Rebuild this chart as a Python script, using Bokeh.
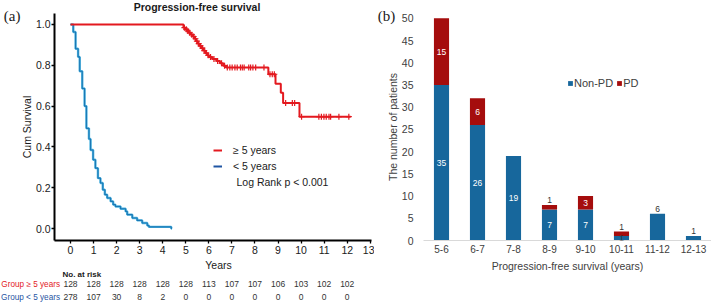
import numpy as np
from bokeh.plotting import figure
from bokeh.models import (Range1d, FactorRange, FixedTicker, NumeralTickFormatter, LabelSet,
                          ColumnDataSource, Legend, LegendItem)
from bokeh.core.properties import value
from bokeh.layouts import row, column
from bokeh.embed import file_html
from bokeh.resources import INLINE

FONT = "Liberation Sans"
SERIF = "Liberation Serif"

# ---------------- data: panel (a) Kaplan-Meier ----------------
ge5_times = [0.0, 4.90, 4.97, 5.05, 5.13, 5.22, 5.30, 5.38, 5.45, 5.52, 5.60, 5.68, 5.76, 5.85,
             5.93, 6.00, 6.15, 6.33, 6.48, 6.62, 6.74, 8.58, 8.89, 9.12, 9.22, 9.93]
ge5_surv = [1.0, 0.984, 0.976, 0.968, 0.959, 0.950, 0.941, 0.930, 0.918, 0.906, 0.895, 0.884,
            0.872, 0.860, 0.849, 0.840, 0.831, 0.821, 0.810, 0.798, 0.789, 0.756, 0.710, 0.665,
            0.615, 0.548]
ge5_end = 12.15
ge5_censor = [4.94, 5.02, 5.09, 5.17, 5.26, 5.34, 5.42, 5.48, 5.56, 5.64, 5.72, 5.80, 5.89,
              5.97, 6.07, 6.22, 6.38, 6.55, 6.68, 6.80, 6.91, 7.01, 7.13, 7.23, 7.37, 7.45,
              7.53, 7.73, 7.81, 7.91, 8.03, 8.39, 8.65, 8.75, 8.84, 9.33, 9.62, 9.72, 10.02,
              10.77, 10.88, 10.99, 11.09, 11.21, 11.28, 11.64, 12.07]

lt5_times = [0.0, 0.12, 0.22, 0.33, 0.40, 0.51, 0.61, 0.69, 0.80, 0.87, 0.98, 1.08, 1.19, 1.30,
             1.40, 1.49, 1.59, 1.74, 1.85, 1.95, 2.17, 2.39, 2.46, 2.68, 2.89, 3.11, 3.33,
             3.40, 4.37]
lt5_surv = [1.0, 0.963, 0.881, 0.841, 0.771, 0.686, 0.600, 0.491, 0.439, 0.385, 0.337, 0.296,
            0.247, 0.223, 0.190, 0.166, 0.150, 0.133, 0.117, 0.108, 0.097, 0.084, 0.068, 0.052,
            0.040, 0.027, 0.015, 0.008, 0.0]
lt5_end = 4.40

x_ticks_a = list(range(14))
y_ticks_a = [0.0, 0.2, 0.4, 0.6, 0.8, 1.0]
risk_years = list(range(13))
risk_ge5 = [128, 128, 128, 128, 128, 128, 113, 107, 107, 106, 103, 102, 102]
risk_lt5 = [278, 107, 30, 8, 2, 0, 0, 0, 0, 0, 0, 0, 0]

# ---------------- data: panel (b) stacked bars ----------------
pfs_groups = ["5-6", "6-7", "7-8", "8-9", "9-10", "10-11", "11-12", "12-13"]
non_pd = [35, 26, 19, 7, 7, 1, 6, 1]
pd_cnt = [15, 6, 0, 1, 3, 1, 0, 0]
y_ticks_b = [0, 5, 10, 15, 20, 25, 30, 35, 40, 45, 50]

# label placement (style config)
non_pd_mode = ["in", "in", "in", "in", "in", "dark", "top", "top"]
pd_mode = ["in", "in", "", "top", "in", "top", "", ""]

RED = "#e3191f"
BLUE_HALO = "#4fb4e0"
BLUE_CORE = "#1a78b5"
BLUE_LEG = "#1f55a3"
BAR_BLUE = "#17679c"
BAR_RED = "#a50d0d"
TXT = "#1a1a1a"
GREY = "#404040"


def surv_at(times, surv, t):
    i = int(np.searchsorted(np.asarray(times), t, side="right")) - 1
    return surv[max(i, 0)]


# ================= background text layer (shares the KM year / survival scale) ===========
bg = figure(width=711, height=303, x_range=Range1d(-3.0356, 27.797),
            y_range=Range1d(-0.361, 1.1171), min_border_left=0, min_border_right=0,
            min_border_top=0, min_border_bottom=0, x_axis_location=None,
            y_axis_location=None, toolbar_location=None, output_backend="svg", title=None)
bg.outline_line_color = None
bg.grid.visible = False


def bg_text(x, y, text, size="10.5px", color=TXT, align="left", style="normal", font=FONT):
    bg.text(x=[x], y=[y], text=[text], text_font=value(font), text_font_size=value(size),
            text_color=color, text_align=align, text_baseline="middle",
            text_font_style=style)


bg_text(5.486, 1.0854, "Progression-free survival", style="bold", align="center")
bg_text(-2.892, 1.0439, "(a)", size="15px", font=SERIF)
bg_text(7.199, 0.2293, "Log Rank p < 0.001")
bg_text(6.418, -0.1756, "Years", align="center")
bg_text(-0.347, -0.218, "No. at risk", size="8px", style="bold")
bg_text(-0.455, -0.2683, "Group ≥ 5 years", size="8.2px", color=RED, align="right")
bg_text(-0.455, -0.3317, "Group < 5 years", size="8.2px", color=BLUE_LEG, align="right")
bg_text(13.326, 1.0424, "(b)", size="15px", font=SERIF)

risk_src = ColumnDataSource(dict(
    x=risk_years + risk_years,
    y=[-0.2683] * len(risk_years) + [-0.3317] * len(risk_years),
    t=[str(v) for v in risk_ge5] + [str(v) for v in risk_lt5]))
bg.text(x="x", y="y", text="t", source=risk_src, text_font=value(FONT),
        text_font_size=value("8.5px"), text_color="#333333", text_align="center",
        text_baseline="middle")

# ================= panel (a) =================
p1 = figure(width=374, height=303, x_range=Range1d(-0.6938, 13.053),
            y_range=Range1d(-0.05854, 1.05366), min_border_left=54, min_border_right=3,
            min_border_top=13, min_border_bottom=62, toolbar_location=None,
            output_backend="svg", title=None)
p1.outline_line_color = None
p1.grid.visible = False
p1.background_fill_alpha = 0
p1.border_fill_alpha = 0

lx = lt5_times + [lt5_end]
ly = lt5_surv + [lt5_surv[-1]]
p1.step(x=lx, y=ly, mode="after", line_color=BLUE_HALO, line_width=2.4)
p1.step(x=lx, y=ly, mode="after", line_color=BLUE_CORE, line_width=1.1)
r_leg_lt5 = p1.step(x=lx, y=ly, mode="after", line_color=BLUE_LEG, line_width=2,
                    visible=False)
r_ge5 = p1.step(x=ge5_times + [ge5_end], y=ge5_surv + [ge5_surv[-1]], mode="after",
                line_color=RED, line_width=2)
cy = [surv_at(ge5_times, ge5_surv, t) for t in ge5_censor]
p1.scatter(x=ge5_censor, y=cy, marker="cross", size=6, line_color=RED, line_width=1.2)

for ax in (p1.xaxis[0], p1.yaxis[0]):
    ax.axis_line_width = 2
    ax.axis_line_color = "black"
    ax.major_tick_out = 3
    ax.major_tick_in = 0
    ax.major_tick_line_width = 1.3
    ax.major_tick_line_color = "black"
    ax.minor_tick_line_color = None
    ax.major_label_text_font = FONT
    ax.major_label_text_font_size = "10.5px"
    ax.major_label_text_color = TXT
    ax.major_label_standoff = 1

p1.xaxis[0].ticker = FixedTicker(ticks=x_ticks_a)
p1.xaxis[0].major_label_standoff = 2
p1.yaxis[0].ticker = FixedTicker(ticks=y_ticks_a)
p1.yaxis[0].formatter = NumeralTickFormatter(format="0.0")
p1.yaxis[0].axis_label = "Cum Survival"
p1.yaxis[0].axis_label_text_font = FONT
p1.yaxis[0].axis_label_text_font_size = "10.5px"
p1.yaxis[0].axis_label_text_font_style = "normal"
p1.yaxis[0].axis_label_text_color = TXT
p1.yaxis[0].axis_label_standoff = 0

leg1 = Legend(items=[LegendItem(label="≥ 5 years", renderers=[r_ge5]),
                     LegendItem(label="< 5 years", renderers=[r_leg_lt5])],
              location=(159, 66), glyph_width=9, glyph_height=16, label_height=16,
              spacing=0, padding=0, margin=0, label_standoff=11,
              border_line_color=None, background_fill_alpha=0, inactive_fill_alpha=0,
              click_policy="none",
              label_text_font=FONT, label_text_font_size="10.5px", label_text_color=TXT)
p1.add_layout(leg1)

# ================= panel (b) =================
p2 = figure(width=337, height=303, x_range=FactorRange(factors=pfs_groups, range_padding=0),
            y_range=Range1d(0, 51.087), min_border_left=49, min_border_right=0,
            min_border_top=5, min_border_bottom=63, toolbar_location=None,
            output_backend="svg", title=None)
p2.outline_line_color = None
p2.grid.visible = False
p2.background_fill_alpha = 0
p2.border_fill_alpha = 0

src = ColumnDataSource(dict(g=pfs_groups, non_pd=non_pd, pd=pd_cnt))
rs = p2.vbar_stack(["non_pd", "pd"], x="g", width=0.42, color=[BAR_BLUE, BAR_RED],
                   line_color=None, source=src)

ya = p2.yaxis[0]
ya.ticker = FixedTicker(ticks=y_ticks_b)
ya.axis_line_color = None
ya.major_tick_line_color = None
ya.major_tick_out = 0
ya.major_tick_in = 0
ya.minor_tick_line_color = None
ya.major_label_standoff = 10
ya.major_label_text_font = FONT
ya.major_label_text_font_size = "10.5px"
ya.major_label_text_color = GREY
ya.axis_label = "The number of patients"
ya.axis_label_text_font = FONT
ya.axis_label_text_font_size = "10.5px"
ya.axis_label_text_font_style = "normal"
ya.axis_label_text_color = GREY
ya.axis_label_standoff = 0

xa = p2.xaxis[0]
xa.axis_line_color = "#d9d9d9"
xa.axis_line_width = 1
xa.major_tick_line_color = None
xa.major_tick_out = 0
xa.major_tick_in = 0
xa.minor_tick_line_color = None
xa.major_label_standoff = 4
xa.major_label_text_font = FONT
xa.major_label_text_font_size = "10px"
xa.major_label_text_color = GREY
xa.axis_label = "Progression-free survival (years)"
xa.axis_label_text_font = FONT
xa.axis_label_text_font_size = "10.5px"
xa.axis_label_text_font_style = "normal"
xa.axis_label_text_color = GREY
xa.axis_label_standoff = 4

in_x, in_y, in_t, in_c = [], [], [], []
top_x, top_y, top_t = [], [], []
for i, g in enumerate(pfs_groups):
    a, b = non_pd[i], pd_cnt[i]
    m = non_pd_mode[i]
    if m in ("in", "dark"):
        in_x.append(g); in_y.append(a / 2); in_t.append(str(a))
        in_c.append("white" if m == "in" else "#333333")
    elif m == "top":
        top_x.append(g); top_y.append(a + b); top_t.append(str(a))
    m = pd_mode[i]
    if m == "in":
        in_x.append(g); in_y.append(a + b / 2); in_t.append(str(b)); in_c.append("white")
    elif m == "top":
        top_x.append(g); top_y.append(a + b); top_t.append(str(b))

p2.add_layout(LabelSet(x="x", y="y", text="t", text_color="c",
                       source=ColumnDataSource(dict(x=in_x, y=in_y, t=in_t, c=in_c)),
                       text_font=value(FONT), text_font_size=value("8.5px"),
                       text_align="center", text_baseline="middle"))
p2.add_layout(LabelSet(x="x", y="y", text="t", y_offset=5,
                       source=ColumnDataSource(dict(x=top_x, y=top_y, t=top_t)),
                       text_font=value(FONT), text_font_size=value("8.5px"),
                       text_align="center", text_baseline="middle",
                       text_color="#333333"))

leg2 = Legend(items=[LegendItem(label="Non-PD", renderers=[rs[0]]),
                     LegendItem(label="PD", renderers=[rs[1]])],
              orientation="horizontal", location=(144, 151), glyph_width=6, glyph_height=6,
              label_height=12, label_width=10, spacing=3, padding=0, margin=0,
              label_standoff=1, border_line_color=None, background_fill_alpha=0,
              label_text_font=FONT, label_text_font_size="11px", label_text_color=GREY)
p2.add_layout(leg2)

charts = row(p1, p2, margin=(-303, 0, 0, 0))
layout = column(bg, charts)
open("out.html", "w").write(file_html(layout, INLINE))
